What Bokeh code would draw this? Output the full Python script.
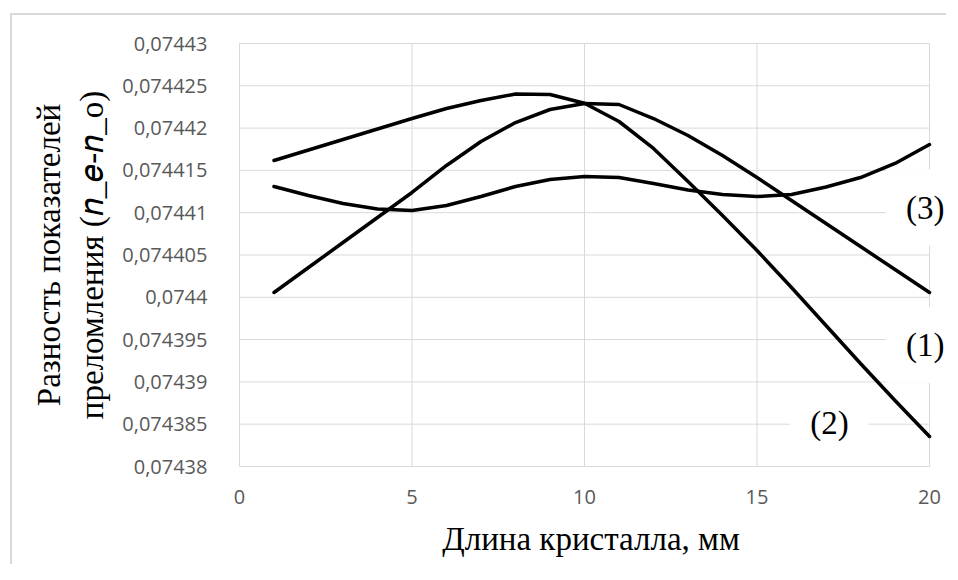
from bokeh.plotting import figure
from bokeh.models import Range1d, FixedTicker, Label
from bokeh.embed import file_html
from bokeh.resources import INLINE

# ---- data ----
crystal_length = [1, 2, 3, 4, 5, 6, 7, 8, 9, 10, 11, 12, 13, 14, 15, 16, 17, 18, 19, 20]
series_1 = [0.07440057, 0.07440352, 0.07440648, 0.07440943, 0.07441239, 0.07441558,
            0.07441842, 0.07442066, 0.07442220, 0.07442291, 0.07442279, 0.07442113,
            0.07441913, 0.07441676, 0.07441416, 0.07441144, 0.07440872, 0.07440600,
            0.07440329, 0.07440057]
series_2 = [0.07441617, 0.07441741, 0.07441865, 0.07441989, 0.07442113, 0.07442232,
            0.07442326, 0.07442403, 0.07442397, 0.07442294, 0.07442078, 0.07441759,
            0.07441369, 0.07440967, 0.07440553, 0.07440116, 0.07439667, 0.07439217,
            0.07438780, 0.07438355]
series_3 = [0.07441310, 0.07441203, 0.07441109, 0.07441044, 0.07441026, 0.07441085,
            0.07441191, 0.07441310, 0.07441392, 0.07441428, 0.07441416, 0.07441345,
            0.07441268, 0.07441215, 0.07441191, 0.07441215, 0.07441304, 0.07441416,
            0.07441582, 0.07441806]
series_names = ["(1)", "(2)", "(3)"]
x_ticks = [0, 5, 10, 15, 20]
y_ticks = [0.07438, 0.074385, 0.07439, 0.074395, 0.0744, 0.074405,
           0.07441, 0.074415, 0.07442, 0.074425, 0.07443]
y_tick_labels = ["0,07438", "0,074385", "0,07439", "0,074395", "0,0744", "0,074405",
                 "0,07441", "0,074415", "0,07442", "0,074425", "0,07443"]
x_title = "Длина кристалла, мм"
y_title = "Разность показателей\nпреломления (𝑛_𝑒-𝑛_o)"

# ---- layout (pixels) ----
W, H = 946, 564
PAD = 4                      # frame padding so the edge grid lines are not clipped
X_LEFT, X_RIGHT = 239, 929   # pixel of x=0 and x=20
Y_TOP, Y_BOT = 43, 466       # pixel of top and bottom tick
x0, x1 = x_ticks[0], x_ticks[-1]
y0, y1 = y_ticks[0], y_ticks[-1]
xs = (x1 - x0) / (X_RIGHT - X_LEFT)
ys = (y1 - y0) / (Y_BOT - Y_TOP)
x_range = Range1d(x0 - PAD * xs, x1 + (W - X_RIGHT) * xs)
y_range = Range1d(y0 - PAD * ys, y1 + PAD * ys)

p = figure(width=W, height=H, output_backend="svg", toolbar_location=None,
           x_range=x_range, y_range=y_range,
           min_border_left=X_LEFT - PAD, min_border_right=0,
           min_border_top=Y_TOP - PAD, min_border_bottom=H - Y_BOT - PAD)
p.background_fill_color = "white"
p.border_fill_color = None
p.outline_line_color = None
p.styles = {
    "background": "linear-gradient(#d9d9d9,#d9d9d9) 10px 13px / 2px 100% no-repeat, "
                  "linear-gradient(#d9d9d9,#d9d9d9) 10px 13px / 100% 2px no-repeat, white"
}

for ax in (p.xaxis[0], p.yaxis[0]):
    ax.axis_line_color = None
    ax.major_tick_line_color = None
    ax.minor_tick_line_color = None
    ax.major_label_text_font = "Open Sans"
    ax.major_label_text_font_size = "20px"
    ax.major_label_text_color = "#595959"
    ax.axis_label_text_font = "Liberation Serif"
    ax.axis_label_text_font_size = "33px"
    ax.axis_label_text_font_style = "normal"
    ax.axis_label_text_color = "black"

p.xaxis.ticker = FixedTicker(ticks=x_ticks)
p.yaxis.ticker = FixedTicker(ticks=y_ticks)
p.yaxis.major_label_overrides = {t: l for t, l in zip(y_ticks, y_tick_labels)}
p.xaxis.major_label_standoff = 13
p.yaxis.major_label_standoff = 22
p.xaxis.axis_label = x_title
p.yaxis.axis_label = y_title
p.xaxis.axis_label_standoff = 14
p.yaxis.axis_label_standoff = 9
p.xgrid.visible = False
p.ygrid.visible = False

# grid drawn as segments limited to the plot area
p.segment(x0=[x0] * len(y_ticks), x1=[x1] * len(y_ticks), y0=y_ticks, y1=y_ticks,
          line_color="#d9d9d9", line_width=1)
p.segment(x0=x_ticks, x1=x_ticks, y0=[y0] * len(x_ticks), y1=[y1] * len(x_ticks),
          line_color="#d9d9d9", line_width=1)

for yv in (series_1, series_2, series_3):
    p.line(crystal_length, yv, line_color="black", line_width=3.5,
           line_join="round", line_cap="round")

label_pos = {"(3)": (19.88, 0.0744106), "(1)": (19.88, 0.0743944), "(2)": (17.1, 0.0743852)}
for name in series_names:
    lx, ly = label_pos[name]
    p.add_layout(Label(x=lx, y=ly, text=name, text_font="Liberation Serif",
                       text_font_size="33px", text_color="black",
                       text_align="center", text_baseline="middle",
                       background_fill_color="white", padding=20))

open("out.html", "w").write(file_html(p, INLINE))
